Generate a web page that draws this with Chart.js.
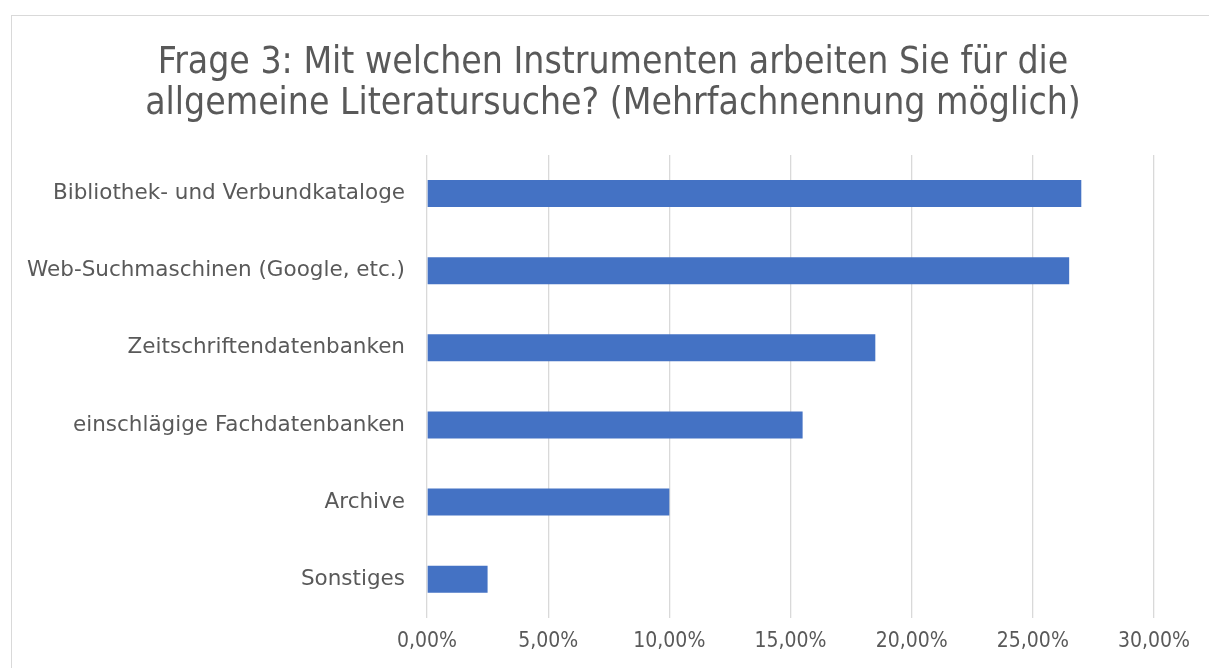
<!DOCTYPE html>
<html>
<head>
<meta charset="utf-8">
<script src="https://cdn.jsdelivr.net/npm/chart.js@4.4.0/dist/chart.umd.min.js"></script>
<style>
    html, body { margin: 0; padding: 0; background: #fff; overflow: hidden; }
    #frame {
        position: absolute;
        left: 11px;
        top: 15px;
        width: 1300px;
        height: 700px;
        border: 1px solid #d9d9d9;
    }
    #wrap { position: absolute; left: 0; top: 0; width: 1209px; height: 668px; }
</style>
</head>
<body>
<div id="frame"></div>
<div id="wrap"><canvas id="chart" width="1209" height="668"></canvas></div>
<script>
// Survey answers (share of mentions, in percent)
const categories = [
    'Bibliothek- und Verbundkataloge',
    'Web-Suchmaschinen (Google, etc.)',
    'Zeitschriftendatenbanken',
    'einschlägige Fachdatenbanken',
    'Archive',
    'Sonstiges'
];
const shares = [27.0, 26.5, 18.5, 15.5, 10.0, 2.5];
const tickValues = [0, 5, 10, 15, 20, 25, 30];

const titleLines = [
    'Frage 3: Mit welchen Instrumenten arbeiten Sie für die',
    'allgemeine Literatursuche? (Mehrfachnennung möglich)'
];

const textColor = '#595959';
const gridColor = '#d9d9d9';

function formatPercent(value) {
    return value.toFixed(2).replace('.', ',') + '%';
}

// The title in the original is centred on the whole frame, not the plot,
// so it is drawn here instead of by the title plugin
const frameTitle = {
    id: 'frameTitle',
    afterDraw(chart) {
        const c = chart.ctx;
        c.save();
        c.fillStyle = textColor;
        c.font = '37px "DejaVu Sans Condensed"';
        c.textAlign = 'center';
        c.textBaseline = 'middle';
        titleLines.forEach((line, i) => {
            c.fillText(line, 613, 63 + i * 41);
        });
        c.restore();
    }
};

const ctx = document.getElementById('chart').getContext('2d');
new Chart(ctx, {
    type: 'bar',
    data: {
        labels: categories,
        datasets: [{
            data: shares,
            backgroundColor: '#4472c4',
            borderWidth: 0,
            barPercentage: 0.35,
            categoryPercentage: 1.0
        }]
    },
    options: {
        indexAxis: 'y',
        responsive: false,
        animation: false,
        layout: {
            padding: { left: 12, right: 55, top: 155, bottom: 3 }
        },
        plugins: {
            legend: { display: false },
            tooltip: { enabled: false },
            title: { display: false }
        },
        scales: {
            x: {
                min: 0,
                max: 30,
                afterBuildTicks: (scale) => {
                    scale.ticks = tickValues.map(v => ({ value: v }));
                },
                ticks: {
                    color: textColor,
                    font: { family: 'DejaVu Sans Condensed', size: 21 },
                    padding: 11,
                    callback: (value) => formatPercent(value)
                },
                grid: {
                    color: gridColor,
                    lineWidth: 1.3,
                    drawTicks: false
                },
                border: { display: false }
            },
            y: {
                afterFit: (scale) => { scale.width = 415; },
                ticks: {
                    color: textColor,
                    font: { family: 'DejaVu Sans', size: 21.5 },
                    padding: 22
                },
                grid: { display: false, drawTicks: false },
                border: { display: false }
            }
        }
    },
    plugins: [frameTitle]
});
</script>
</body>
</html>
